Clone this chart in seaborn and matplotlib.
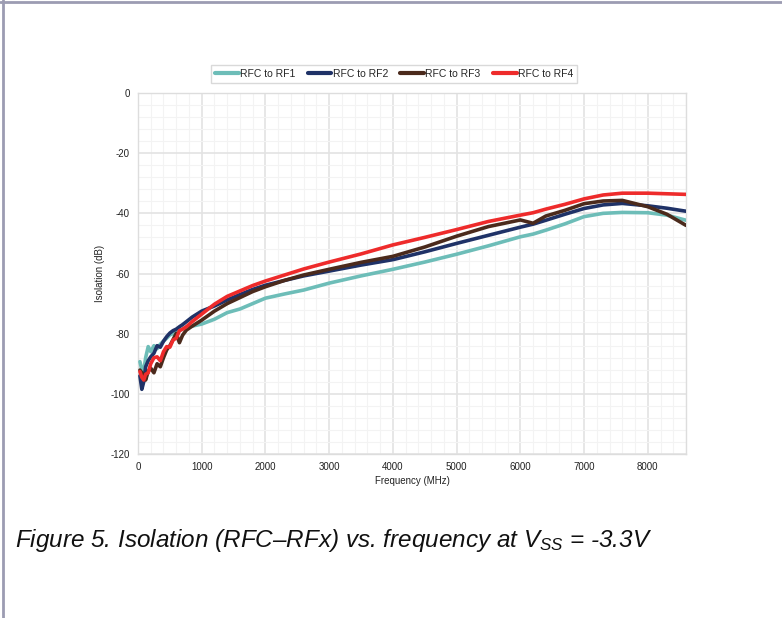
import numpy as np
import pandas as pd
import matplotlib
matplotlib.use("Agg")
import matplotlib.pyplot as plt
from matplotlib.lines import Line2D
from matplotlib.ticker import MultipleLocator
import seaborn as sns

freq = [30, 60, 90, 120, 160, 200, 250, 300, 350, 400, 450, 500, 550, 600, 650, 700,
        760, 850, 1000, 1200, 1400, 1600, 1800, 2000, 2300, 2600, 3000, 3500, 4000,
        4500, 5000, 5500, 6000, 6200, 6400, 6700, 7000, 7300, 7600, 8000, 8300, 8600]

rf1 = [-89.3, -92.0, -92.5, -88.0, -84.3, -86.0, -84.0, -85.0, -83.5, -82.5, -81.5, -80.4,
       -80.0, -79.5, -79.0, -78.5, -77.7, -77.5, -76.8, -75.2, -73.0, -71.8, -70.0, -68.2,
       -66.8, -65.5, -63.2, -60.8, -58.6, -56.2, -53.6, -50.8, -47.8, -46.9, -45.6, -43.5,
       -41.1, -40.0, -39.7, -39.8, -40.6, -42.3]
rf2 = [-94.0, -98.5, -96.0, -91.0, -89.0, -87.7, -86.5, -84.0, -84.5, -82.5, -81.0, -79.8,
       -79.0, -78.5, -77.7, -77.0, -76.0, -74.5, -72.5, -70.8, -68.8, -67.0, -65.3, -63.9,
       -62.3, -60.8, -59.2, -57.2, -55.4, -52.8, -50.0, -47.3, -44.6, -43.6, -42.3, -40.3,
       -38.4, -37.2, -36.7, -37.5, -38.3, -39.3]
rf3 = [-92.1, -93.0, -93.5, -95.4, -92.5, -91.5, -93.0, -90.0, -91.0, -88.0, -85.4, -84.0,
       -82.0, -79.9, -83.0, -80.5, -78.8, -77.5, -75.5, -72.5, -70.0, -68.0, -66.0, -64.4,
       -62.3, -60.5, -58.6, -56.3, -54.3, -51.2, -47.6, -44.4, -42.2, -43.3, -40.9, -39.0,
       -36.8, -35.9, -35.7, -37.8, -40.3, -44.0]
rf4 = [-92.6, -94.5, -95.4, -93.5, -93.0, -90.0, -88.0, -87.7, -89.0, -86.0, -84.3, -84.5,
       -82.1, -81.5, -79.0, -78.5, -77.7, -76.0, -73.5, -70.2, -67.6, -65.8, -64.0, -62.5,
       -60.5, -58.5, -56.2, -53.5, -50.5, -48.0, -45.4, -42.7, -40.6, -39.8, -38.6, -37.0,
       -35.2, -33.9, -33.3, -33.3, -33.5, -33.7]

series_names = ["RFC to RF1", "RFC to RF2", "RFC to RF3", "RFC to RF4"]
colors = ["#6dbdb8", "#1f3267", "#4b2a1c", "#ee2b2b"]

x_ticks = [0, 1000, 2000, 3000, 4000, 5000, 6000, 7000, 8000]
y_ticks = [0, -20, -40, -60, -80, -100, -120]

frames = []
for name, vals in zip(series_names, [rf1, rf2, rf3, rf4]):
    frames.append(pd.DataFrame({"Frequency (MHz)": freq, "Isolation (dB)": vals, "Series": name}))
df = pd.concat(frames, ignore_index=True)

sns.set_style("white")
plt.rcParams['font.family'] = ['Liberation Sans', 'DejaVu Sans']
plt.rcParams['axes.unicode_minus'] = False
plt.rcParams['mathtext.fontset'] = 'custom'
plt.rcParams['mathtext.it'] = 'Liberation Sans:italic'
plt.rcParams['mathtext.rm'] = 'Liberation Sans:italic'

fig = plt.figure(figsize=(7.82, 6.18), dpi=100)
ax = fig.add_axes([138/782, 1-454/618, (686-138)/782, (454-93)/618])

sns.lineplot(data=df, x="Frequency (MHz)", y="Isolation (dB)", hue="Series",
             palette=dict(zip(series_names, colors)), linewidth=2.6, ax=ax,
             legend=False, zorder=3)

ax.set_xlim(0, 8600)
ax.set_ylim(-120, 0)
ax.set_xticks(x_ticks)
ax.set_yticks(y_ticks)
ax.xaxis.set_minor_locator(MultipleLocator(200))
ax.yaxis.set_minor_locator(MultipleLocator(4))
ax.grid(which='major', color='#e3e3e3', linewidth=1.2)
ax.grid(which='minor', color='#f3f3f3', linewidth=0.8)
ax.set_axisbelow(True)
ax.tick_params(which='both', length=0, labelsize=7, colors='#222222', pad=6)
for s in ax.spines.values():
    s.set_color('#dddddd')
    s.set_linewidth(1.0)

ax.set_xlabel("Frequency (MHz)", fontsize=7, color='#222222', labelpad=3)
ax.set_ylabel("Isolation (dB)", fontsize=7, color='#222222', labelpad=4)

handles = [Line2D([0], [0], color=c, linewidth=3) for c in colors]
leg = fig.legend(handles, series_names, loc='center', bbox_to_anchor=(394/782, 1-74/618),
                 ncol=4, fontsize=7.5, frameon=True, fancybox=False, handlelength=2.3,
                 handletextpad=0.1, columnspacing=1.2, borderpad=0.35)
leg.get_frame().set_edgecolor('#d0d0d0')
leg.get_frame().set_linewidth(1.0)

fig.text(15/782, 1-547/618, r"Figure 5. Isolation (RFC–RFx) vs. frequency at V$_{SS}$ = -3.3V",
         fontsize=17.5, style='italic', color='#111111', ha='left', va='baseline')

fig.add_artist(Line2D([0, 1], [1-1.5/618, 1-1.5/618], transform=fig.transFigure,
                      color='#9c9cb2', linewidth=2))
fig.add_artist(Line2D([2.5/782, 2.5/782], [0, 1], transform=fig.transFigure,
                      color='#9c9cb2', linewidth=2))

fig.savefig("out.png", dpi=100)
